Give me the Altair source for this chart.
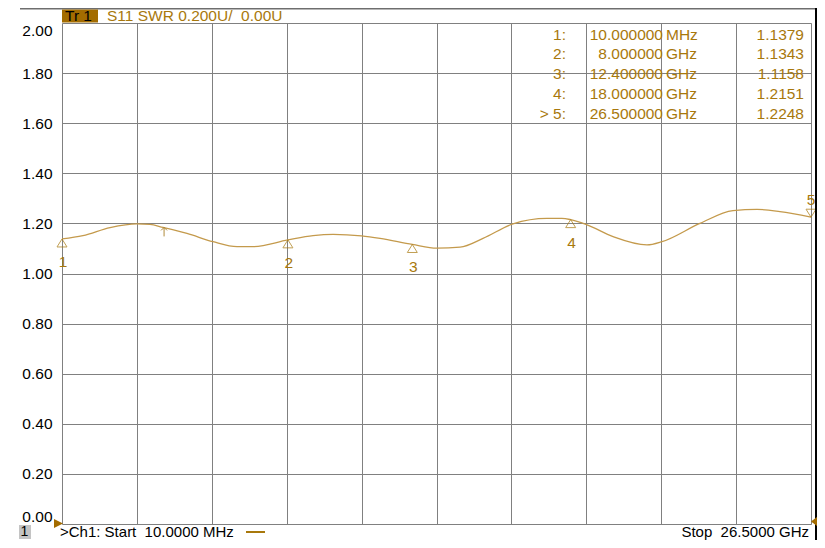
import altair as alt
import pandas as pd

# ---------------- data ----------------
trace_freq_ghz = [0.01, 0.75, 1.71, 2.66, 3.12, 3.58, 4.43, 5.35, 6.20, 6.77,
                  8.00, 8.89, 9.60, 10.60, 11.26, 12.40, 13.27, 14.09, 14.90,
                  15.96, 17.16, 17.69, 18.00, 18.58, 19.50, 20.70, 21.23,
                  22.57, 23.74, 24.59, 25.40, 26.50]
trace_swr = [1.138, 1.151, 1.183, 1.198, 1.196, 1.184, 1.160, 1.127, 1.107, 1.107,
             1.134, 1.151, 1.156, 1.150, 1.140, 1.116, 1.101, 1.105, 1.140,
             1.198, 1.220, 1.220, 1.215, 1.194, 1.147, 1.114, 1.127,
             1.200, 1.251, 1.256, 1.247, 1.225]

marker_ids = ["1", "2", "3", "4", "5"]
marker_freq_ghz = [0.01, 8.0, 12.4, 18.0, 26.5]
marker_swr = [1.1379, 1.1343, 1.1158, 1.2151, 1.2248]
marker_prefix = ["1:", "2:", "3:", "4:", "> 5:"]
marker_freq_text = ["10.000000", "8.000000", "12.400000", "18.000000", "26.500000"]
marker_unit = ["MHz", "GHz", "GHz", "GHz", "GHz"]
marker_value_text = ["1.1379", "1.1343", "1.1158", "1.2151", "1.2248"]

arrow_freq_ghz = [3.62]
arrow_swr = [1.184]

y_ticks = [0.0, 0.2, 0.4, 0.6, 0.8, 1.0, 1.2, 1.4, 1.6, 1.8, 2.0]
x_grid = [0.01, 2.659, 5.308, 7.957, 10.606, 13.255, 15.904, 18.553, 21.202, 23.851, 26.5]
x_domain = [0.01, 26.5]
y_domain = [0.0, 2.0]

NB = "\u00a0"
header_tr = "Tr 1"
header_text = "S11 SWR 0.200U/" + NB + NB + "0.00U"
status_left = ">Ch1: Start" + NB + NB + "10.0000 MHz"
status_right = "Stop" + NB + NB + "26.5000 GHz"
channel_label = "1"

# ---------------- styles ----------------
FONT = "Liberation Sans"
FS = 15.5
FS_STATUS = 15
GOLD_TEXT = "#A8780C"
GOLD_LINE = "#C49A4C"
GOLD_BOX = "#A36C00"
GRID = "#808080"

trace_df = pd.DataFrame({"freq": trace_freq_ghz, "swr": trace_swr})
mk_df = pd.DataFrame({"id": marker_ids, "freq": marker_freq_ghz, "swr": marker_swr})
arrow_df = pd.DataFrame({"freq": arrow_freq_ghz, "swr": arrow_swr})
one = pd.DataFrame({"a": [0]})

x_enc = alt.X("freq:Q",
              scale=alt.Scale(domain=x_domain, nice=False, zero=False),
              axis=alt.Axis(values=x_grid, labels=False, ticks=False, domain=False,
                            title=None, gridColor=GRID, gridOpacity=1, gridWidth=1))
y_enc = alt.Y("swr:Q",
              scale=alt.Scale(domain=y_domain, nice=False, zero=False),
              axis=alt.Axis(values=y_ticks, format=".2f", title=None, ticks=False,
                            domain=False, labelFontSize=FS, labelFont=FONT,
                            labelColor="black", labelPadding=10, labelFlush=True,
                            gridColor=GRID, gridOpacity=1, gridWidth=1))

trace = alt.Chart(trace_df).mark_line(color=GOLD_LINE, strokeWidth=1.3,
                                      interpolate="monotone").encode(x=x_enc, y=y_enc)

UP = "M0,0 L-1,1.6 L1,1.6 Z"
DOWN = "M0,0 L-1,-1.6 L1,-1.6 Z"
ARROW = "M-0.6,0.6 L0,0 L0.6,0.6 M0,0 L0,1.8"

mk_up = alt.Chart(mk_df).transform_filter("datum.id != '5'").mark_point(
    shape=UP, size=100, filled=False, stroke=GOLD_TEXT, strokeWidth=1).encode(x=x_enc, y=y_enc)
mk_down = alt.Chart(mk_df).transform_filter("datum.id == '5'").mark_point(
    shape=DOWN, size=100, filled=False, stroke=GOLD_TEXT, strokeWidth=1).encode(x=x_enc, y=y_enc)
lab_up = alt.Chart(mk_df).transform_filter("datum.id != '5'").mark_text(
    dy=23, dx=1, fontSize=FS, font=FONT, color=GOLD_TEXT).encode(x=x_enc, y=y_enc, text="id:N")
lab_down = alt.Chart(mk_df).transform_filter("datum.id == '5'").mark_text(
    dy=-17, fontSize=FS, font=FONT, color=GOLD_TEXT).encode(x=x_enc, y=y_enc, text="id:N")
arrow = alt.Chart(arrow_df).mark_point(
    shape=ARROW, size=100, filled=False, stroke="#B08A3A", strokeWidth=1,
    opacity=1).encode(x=x_enc, y=y_enc)

# marker table (multi-line text columns)
def col(text, x, align):
    return alt.Chart(one).mark_text(text=text, align=align, baseline="alphabetic",
                                    lineHeight=19.8, fontSize=FS, font=FONT,
                                    color=GOLD_TEXT).encode(x=alt.value(x), y=alt.value(16.5))

table = [col(marker_prefix, 504, "right"), col(marker_freq_text, 601, "right"),
         col(marker_unit, 604, "left"), col(marker_value_text, 742, "right")]

# instrument chrome
top_line = alt.Chart(one).mark_rule(color="#6e6e6e", strokeWidth=1.5).encode(
    x=alt.value(-42), x2=alt.value(755), y=alt.value(-14.2))
tr_box = alt.Chart(one).mark_rect(color=GOLD_BOX).encode(
    x=alt.value(0), x2=alt.value(36), y=alt.value(-13.5), y2=alt.value(-0.5))
tr_text = alt.Chart(one).mark_text(text=header_tr, align="left", baseline="middle",
                                   fontSize=FS, font=FONT, color="black").encode(
    x=alt.value(3), y=alt.value(-7))
hdr_text = alt.Chart(one).mark_text(text=header_text, align="left", baseline="middle",
                                    fontSize=FS, font=FONT, color=GOLD_TEXT).encode(
    x=alt.value(45), y=alt.value(-7))
right_line = alt.Chart(one).mark_rule(color="black", strokeWidth=2).encode(
    x=alt.value(754), y=alt.value(-15), y2=alt.value(517))
ch_box = alt.Chart(one).mark_rect(color="#c4c4c4").encode(
    x=alt.value(-43), x2=alt.value(-31), y=alt.value(502), y2=alt.value(516))
ch_text = alt.Chart(one).mark_text(text=channel_label, align="left", baseline="middle",
                                   fontSize=14, font=FONT, color="black").encode(
    x=alt.value(-41.5), y=alt.value(509))
st_left = alt.Chart(one).mark_text(text=status_left, align="left", baseline="middle",
                                   fontSize=FS_STATUS, font=FONT, color="black").encode(
    x=alt.value(-2), y=alt.value(509))
st_dash = alt.Chart(one).mark_rule(color=GOLD_TEXT, strokeWidth=2).encode(
    x=alt.value(184), x2=alt.value(203), y=alt.value(509))
st_right = alt.Chart(one).mark_text(text=status_right, align="right", baseline="middle",
                                    fontSize=FS_STATUS, font=FONT, color="black").encode(
    x=alt.value(747), y=alt.value(509))
tri_left = alt.Chart(one).mark_point(shape="M-1,-1 L1,0 L-1,1 Z", size=81, filled=True,
                                     color=GOLD_BOX, opacity=1).encode(
    x=alt.value(-3.5), y=alt.value(500.5))
tri_right = alt.Chart(one).mark_point(shape="M1,-1.5 L-1,0 L1,1.5 Z", size=36, filled=True,
                                      color=GOLD_BOX, opacity=1).encode(
    x=alt.value(752), y=alt.value(498.5))

chart = alt.layer(
    trace, arrow, mk_up, mk_down, lab_up, lab_down, *table,
    top_line, tr_box, tr_text, hdr_text, right_line,
    ch_box, ch_text, st_left, st_dash, st_right, tri_left, tri_right
).properties(
    width=749, height=501,
    padding={"left": 54, "top": 15, "right": 6, "bottom": 16},
    autosize=alt.AutoSizeParams(type="none"),
    background="white",
).configure_view(stroke=GRID, strokeWidth=1).configure(font=FONT)

chart.save("out.html", embed_options={"renderer": "svg", "actions": False})
